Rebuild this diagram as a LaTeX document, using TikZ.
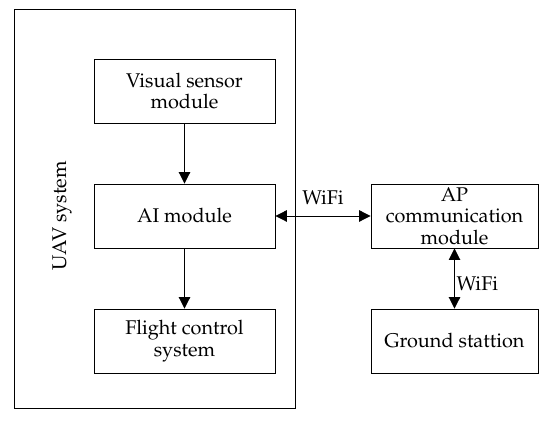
\documentclass[tikz,border=0pt]{standalone}
\usepackage[T1]{fontenc}
\usepackage{mathpazo}
\usepackage{tikz}
\usetikzlibrary{arrows.meta,positioning}

\begin{document}
\begin{tikzpicture}[x=0.02cm, y=-0.02cm, line width=0.5pt,
		box/.style={draw, align=center, inner sep=2pt, font=\fontsize{11.3}{12.2}\selectfont},
		conn/.style={-{Triangle[length=2.3mm,width=2.3mm]}},
		biconn/.style={{Triangle[length=2.3mm,width=2.3mm]}-{Triangle[length=2.3mm,width=2.3mm]}}]
		\useasboundingbox (0,0) rectangle (550,421);
		
		% UAV system frame
		\draw (14,9) rectangle (295,408);
		\node[rotate=90, font=\fontsize{11.3}{12.2}\selectfont] (uav) at (62,216) {UAV system};
		
		% modules on board
		\node[box, minimum width=3.62cm, minimum height=1.28cm] (vis) at (184.5,91) {Visual sensor\\module};
		\node[box, minimum width=3.62cm, minimum height=1.28cm] (ai) at (184.5,216) {AI module};
		\node[box, minimum width=3.62cm, minimum height=1.28cm] (fc) at (184.5,341) {Flight control\\system};
		
		% ground side
		\node[box, minimum width=3.34cm, minimum height=1.28cm] (ap) at (454.5,216) {AP\\communication\\module};
		\node[box, minimum width=3.34cm, minimum height=1.28cm] (gs) at (454.5,341) {Ground stattion};
		
		\draw[conn] (vis) -- (ai);
		\draw[conn] (ai) -- (fc);
		\draw[biconn] (ai) -- node[above, yshift=3pt, font=\fontsize{11.3}{12.2}\selectfont] {WiFi} (ap);
		\draw[biconn] (ap) -- node[right, inner sep=1pt, yshift=-3pt, font=\fontsize{11.3}{12.2}\selectfont] {WiFi} (gs);
	\end{tikzpicture}
\end{document}
